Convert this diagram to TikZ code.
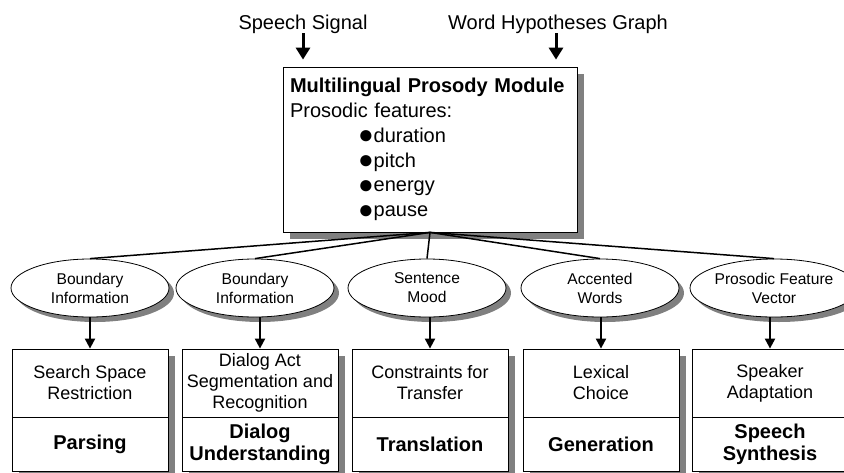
\documentclass[tikz,border=0pt]{standalone}
\usepackage{fontspec}
\setmainfont{Liberation Sans}
\usepackage{tikz}
\usetikzlibrary{shapes.geometric, arrows.meta, shadows}
\newcommand{\featdot}{\raisebox{-1.6pt}{\fontsize{26}{24}\selectfont●}}

\begin{document}
\begin{tikzpicture}[
            x=1pt, y=-1pt,
            gshadow/.style={drop shadow={shadow xshift=#1, shadow yshift=-#1, fill=black!50, opacity=1}},
            mainbox/.style={draw, fill=white, line width=0.8pt, minimum width=294pt, minimum height=165pt, text width=280pt, align=left, inner sep=0pt, font=\fontsize{20}{24.8}\selectfont, gshadow=7pt},
            infoell/.style={draw, ellipse, fill=white, line width=0.8pt, minimum width=158pt, minimum height=58pt, inner sep=0pt, align=center, font=\fontsize{15.6}{19}\selectfont, gshadow=5pt},
            taskbox/.style={draw, fill=white, line width=0.8pt, minimum width=156pt, minimum height=68pt, inner sep=0pt, align=center, font=\fontsize{18}{21}\selectfont, gshadow=6.5pt},
            modbox/.style={taskbox, minimum height=54pt, font=\fontsize{20}{22}\selectfont\bfseries},
            inlabel/.style={inner sep=0pt, anchor=base, font=\fontsize{20}{24}\selectfont},
            bigarrow/.style={line width=3pt, -{Triangle[width=14pt, length=12pt]}},
            smallarrow/.style={line width=2pt, -{Triangle[width=10pt, length=10pt]}}
        ]
        \useasboundingbox (0,0) rectangle (844,472);
        \clip (0,0) rectangle (844,472);
        % Inputs
        \node[inlabel] (sig) at (303,29) {Speech Signal};
        \node[inlabel] (whg) at (558,29) {Word Hypotheses Graph};
        % Root node
        \node[mainbox] (mpm) at (430,149.5) {\textbf{Multilingual Prosody Module}\\
            Prosodic features:\\
            \hspace*{68pt}\featdot duration\\
            \hspace*{68pt}\featdot pitch\\
            \hspace*{68pt}\featdot energy\\
            \hspace*{68pt}\featdot pause};
        \draw[bigarrow, shorten >=7pt] (sig.south) -- (sig.south |- mpm.north);
        \draw[bigarrow, shorten >=7pt] (whg.south) ++(-2,0) coordinate (whgs) -- (whgs |- mpm.north);
        % Level 1: prosodic information
        \node[infoell] (e1) at (90,288) {Boundary\\Information};
        \node[infoell] (e2) at (255,288) {Boundary\\Information};
        \node[infoell] (e3) at (427,288) {Sentence\\Mood};
        \node[infoell] (e4) at (600,288) {Accented\\Words};
        \node[infoell] (e5) at (774,288) {Prosodic Feature\\Vector};
        \draw[line width=1.5pt] (mpm.south) -- (e1.north);
        \draw[line width=1.5pt] (mpm.south) -- (e2.north);
        \draw[line width=1.5pt] (mpm.south) -- (e3.north);
        \draw[line width=1.5pt] (mpm.south) -- (e4.north);
        \draw[line width=1.5pt] (mpm.south) -- (e5.north);
        % Level 2: tasks and modules
        \node[taskbox] (b1) at (90,383) {Search Space\\Restriction};
        \node[modbox, anchor=north] (m1) at (b1.south) {Parsing};
        \node[taskbox] (b2) at (260,383) {Dialog Act\\Segmentation and\\Recognition};
        \node[modbox, anchor=north] (m2) at (b2.south) {Dialog\\Understanding};
        \node[taskbox] (b3) at (430,383) {Constraints for\\Transfer};
        \node[modbox, anchor=north] (m3) at (b3.south) {Translation};
        \node[taskbox] (b4) at (601,383) {Lexical\\Choice};
        \node[modbox, anchor=north] (m4) at (b4.south) {Generation};
        \node[taskbox] (b5) at (770,383) {Speaker\\Adaptation};
        \node[modbox, anchor=north] (m5) at (b5.south) {Speech\\Synthesis};
        \draw[smallarrow] (b1.north |- e1.south) -- (b1.north);
        \draw[smallarrow] (b2.north |- e2.south) -- (b2.north);
        \draw[smallarrow] (b3.north |- e3.south) -- (b3.north);
        \draw[smallarrow] (b4.north |- e4.south) -- (b4.north);
        \draw[smallarrow] (b5.north |- e5.south) -- (b5.north);
    \end{tikzpicture}
\end{document}
